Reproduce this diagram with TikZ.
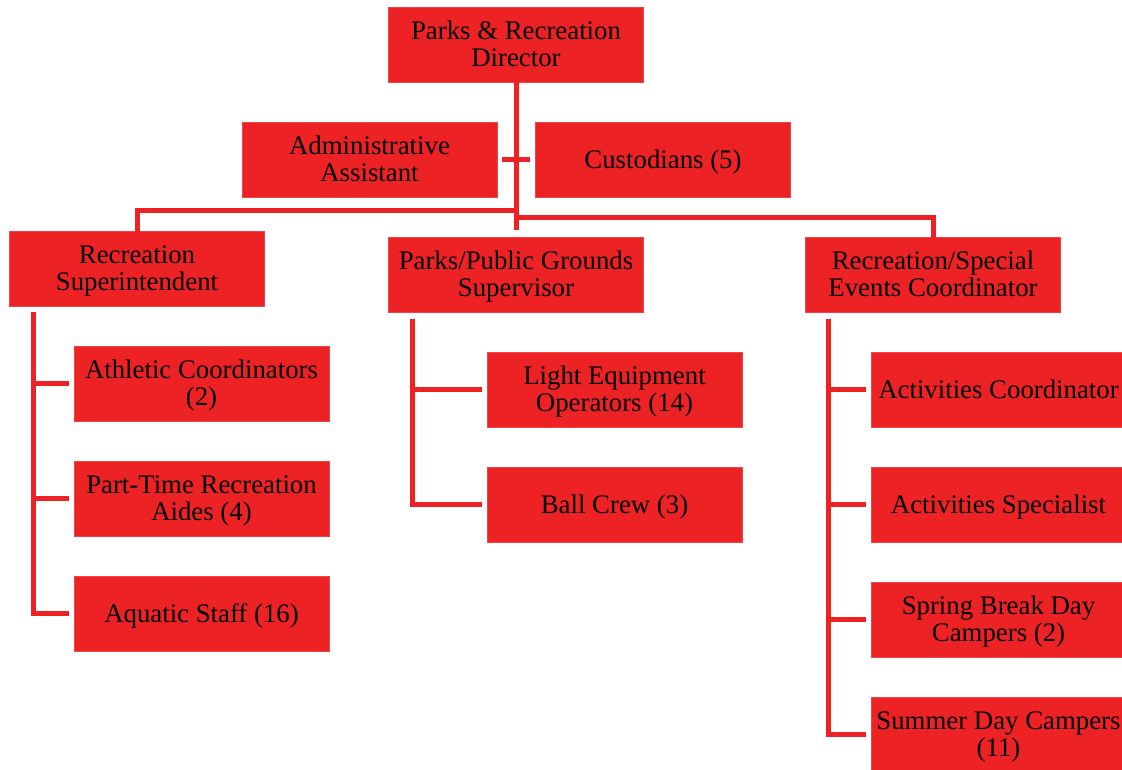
\documentclass[tikz,border=0pt]{standalone}
\usepackage{fontspec}
\setmainfont{Liberation Serif}
\definecolor{orgred}{HTML}{ED2224}
\begin{document}
\begin{tikzpicture}[x=1pt,y=-1pt,
  unit/.style={rectangle, fill=orgred, draw=orgred!85!white, line width=0.8pt,
    minimum width=255pt, minimum height=75pt, inner sep=0pt, align=center,
    text height=23pt, text depth=6pt,
    font=\fontsize{26.8}{27.5}\selectfont},
  twoline/.style={unit, text height=50.5pt},
  link/.style={draw=orgred, line width=5pt, line join=miter}]
\useasboundingbox (0,0) rectangle (1122,769);

% top level
\node[twoline] (dir)  at (516,44.5)  {Parks \& Recreation\\Director};
\node[twoline] (adm)  at (369.5,159.5) {Administrative\\Assistant};
\node[unit]    (cus)  at (663,159.5) {Custodians (5)};

% divisions
\node[twoline] (rs)   at (137,268.5) {Recreation\\Superintendent};
\node[twoline] (pps)  at (516,274.5) {Parks/Public Grounds\\Supervisor};
\node[twoline] (rsec) at (933,274.5) {Recreation/Special\\Events Coordinator};

% recreation staff
\node[twoline] (ac) at (201.5,383.5) {Athletic Coordinators\\(2)};
\node[twoline] (pt) at (201.5,498.5) {Part-Time Recreation\\Aides (4)};
\node[unit]    (aq) at (201.5,613.5) {Aquatic Staff (16)};

% grounds staff
\node[twoline] (le) at (614.5,389.5) {Light Equipment\\Operators (14)};
\node[unit]    (bc) at (614.5,504.5) {Ball Crew (3)};

% events staff
\node[unit]    (act) at (998.5,389.5) {Activities Coordinator};
\node[unit]    (asp) at (998.5,504.5) {Activities Specialist};
\node[twoline] (sb)  at (998.5,619.5) {Spring Break Day\\Campers (2)};
\node[twoline] (sd)  at (998.5,734.5) {Summer Day Campers\\(11)};

% trunk and staff cross-piece
\coordinate (tbot) at (dir.south |- 0,230);
\draw[link] ([yshift=6]dir.south) -- (tbot);
\draw[link] ([xshift=5]adm.east) -- ([xshift=-5]cus.west);

% branches to divisions
\coordinate (lbar) at (rs.north |- 0,210);
\coordinate (rbar) at (rsec.north |- 0,217);
\draw[link] (dir.south |- lbar) -- (lbar) -- ([yshift=-6]rs.north);
\draw[link] (dir.south |- rbar) -- (rbar) -- ([yshift=-6]rsec.north);

% recreation column
\coordinate (rtop) at (33,312);
\coordinate (rbot) at (rtop |- aq.west);
\draw[link] (rtop) -- (rbot) -- ([xshift=-5]aq.west);
\draw[link] (rtop |- ac.west) -- ([xshift=-5]ac.west);
\draw[link] (rtop |- pt.west) -- ([xshift=-5]pt.west);

% grounds column
\coordinate (gtop) at (412,319);
\coordinate (gbot) at (gtop |- bc.west);
\draw[link] (gtop) -- (gbot) -- ([xshift=-5]bc.west);
\draw[link] (gtop |- le.west) -- ([xshift=-5]le.west);

% events column
\coordinate (etop) at (828,319);
\coordinate (ebot) at (etop |- sd.west);
\draw[link] (etop) -- (ebot) -- ([xshift=-5]sd.west);
\draw[link] (etop |- act.west) -- ([xshift=-5]act.west);
\draw[link] (etop |- asp.west) -- ([xshift=-5]asp.west);
\draw[link] (etop |- sb.west) -- ([xshift=-5]sb.west);
\end{tikzpicture}
\end{document}
